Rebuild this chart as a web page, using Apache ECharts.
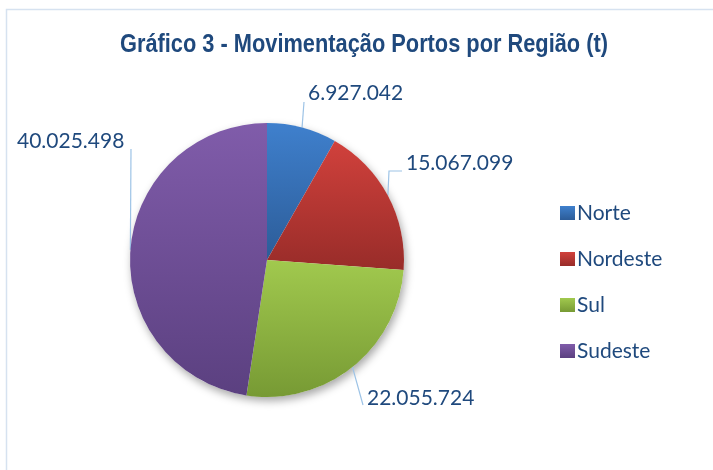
<!DOCTYPE html>
<html>
<head>
<meta charset="utf-8">
<script src="https://cdn.jsdelivr.net/npm/echarts@6/dist/echarts.min.js"></script>
<style>
  html, body { margin: 0; padding: 0; background: #fff; }
  #main { width: 713px; height: 470px; }
</style>
</head>
<body>
<div id="main"></div>
<script>
// dados
var regioes = ['Norte', 'Nordeste', 'Sul', 'Sudeste'];
var toneladas = [6927042, 15067099, 22055724, 40025498];

// cores (topo -> base do degradê)
var coresTopo = ['#3F80CD', '#D1413C', '#A1C94E', '#805CAA'];
var coresBase = ['#2C5C98', '#982C29', '#779A34', '#5B4080'];

// posição dos rótulos (início do texto, centro vertical)
var posRotulos = [[308, 93], [406, 163], [367, 398], [17, 141]];

var titulo = 'Gráfico 3 - Movimentação Portos por Região (t)';
var fonteTitulo = 'bold 25px "Liberation Sans", Arial, sans-serif';

function fmt(v) {
  return String(v).replace(/\B(?=(\d{3})+(?!\d))/g, '.');
}

// largura do título -> escala horizontal (fonte condensada)
var ctx = document.createElement('canvas').getContext('2d');
ctx.font = fonteTitulo;
var escalaTitulo = 488 / ctx.measureText(titulo).width;

var chartDom = document.getElementById('main');
var myChart = echarts.init(chartDom);

var dados = regioes.map(function (nome, i) {
  return {
    name: nome,
    value: toneladas[i],
    itemStyle: {
      color: new echarts.graphic.LinearGradient(0, 0, 0, 1, [
        { offset: 0, color: coresTopo[i] },
        { offset: 1, color: coresBase[i] }
      ])
    }
  };
});

var option = {
  backgroundColor: '#fff',
  animation: false,
  graphic: [
    {
      type: 'rect',
      silent: true,
      z: -10,
      shape: { x: 6.5, y: 9.5, width: 760, height: 500 },
      style: { fill: 'none', stroke: '#D6E2F0', lineWidth: 1.5 }
    },
    {
      type: 'text',
      silent: true,
      x: 364,
      y: 45,
      scaleX: escalaTitulo,
      style: {
        text: titulo,
        font: fonteTitulo,
        fill: '#1F497D',
        align: 'center',
        verticalAlign: 'middle'
      }
    }
  ],
  legend: {
    orient: 'vertical',
    left: 555,
    top: 197,
    data: regioes,
    itemWidth: 15,
    itemHeight: 14,
    itemGap: 24,
    icon: 'rect',
    textStyle: {
      fontFamily: 'Lato, "Open Sans", sans-serif',
      fontSize: 21,
      lineHeight: 22,
      color: '#1F497D',
      padding: [0, 0, 0, -3]
    }
  },
  series: [
    {
      // sombra do disco
      type: 'pie',
      silent: true,
      center: [267, 260],
      radius: 137,
      z: 1,
      label: { show: false },
      labelLine: { show: false },
      data: [{ value: 1, name: '_sombra' }],
      itemStyle: {
        color: '#ffffff',
        shadowBlur: 9,
        shadowOffsetX: 2,
        shadowOffsetY: 4,
        shadowColor: 'rgba(0,0,0,0.35)'
      }
    },
    {
      name: 'Movimentação',
      type: 'pie',
      center: [267, 260],
      radius: 137,
      z: 2,
      startAngle: 90,
      clockwise: true,
      data: dados,
      itemStyle: { borderWidth: 0 },
      label: {
        show: true,
        position: 'outside',
        overflow: 'none',
        formatter: function (p) { return fmt(p.value); },
        fontFamily: 'Lato, "Open Sans", sans-serif',
        fontSize: 21,
        color: '#1F497D'
      },
      labelLine: {
        show: true,
        length: 10,
        length2: 10,
        lineStyle: { color: '#9DC3E6', width: 1.2 }
      },
      labelLayout: function (params) {
        var i = params.dataIndex;
        var p = posRotulos[i];
        var ini = params.labelLinePoints ? params.labelLinePoints[0] : [p[0], p[1]];
        var pts;
        if (i === 0) pts = [ini, [p[0] - 4, p[1] + 9], [p[0] - 4, p[1] + 9]];
        else if (i === 1) pts = [ini, [p[0] - 17, p[1] + 8], [p[0] - 4, p[1] + 8]];
        else if (i === 2) pts = [ini, [p[0] - 4, p[1] + 7], [p[0] - 4, p[1] + 7]];
        else pts = [ini, [p[0] + 114, p[1] + 8], [p[0] + 114, p[1] + 8]];
        return {
          x: p[0],
          y: p[1],
          align: 'left',
          verticalAlign: 'middle',
          labelLinePoints: pts
        };
      }
    }
  ]
};

myChart.setOption(option);
</script>
</body>
</html>
